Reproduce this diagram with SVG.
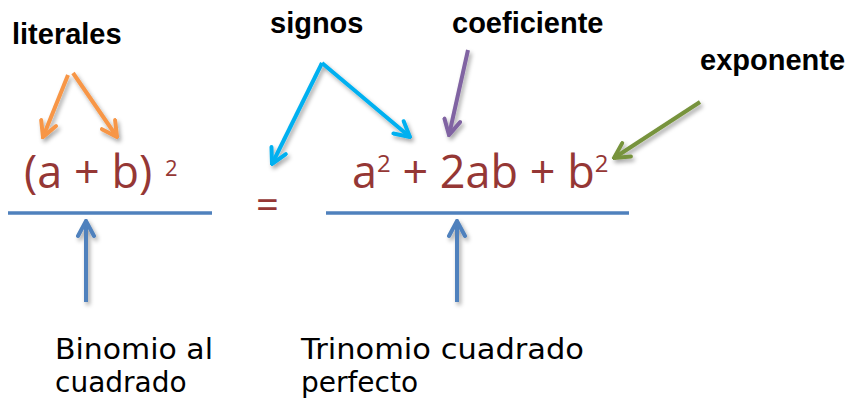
<svg xmlns="http://www.w3.org/2000/svg" width="848" height="401" viewBox="0 0 848 401">
<style>
.lbl{font-family:"Liberation Sans",Arial,sans-serif;font-weight:bold;font-size:29px;fill:#000}
.math{font-family:"Open Sans","Noto Sans",sans-serif;font-size:45px;fill:#953735}
.cap{font-family:"DejaVu Sans","Noto Sans",sans-serif;font-size:28px;fill:#000}
.arr{fill:none;stroke-width:4;filter:url(#sh)}
.bar{stroke:#4f81bd;stroke-width:3.5;fill:none}
</style>
<defs>
<filter id="sh" filterUnits="userSpaceOnUse" x="0" y="0" width="848" height="401">
<feDropShadow dx="2" dy="3" stdDeviation="2" flood-color="#000" flood-opacity="0.35"/>
</filter>
<marker id="mO" viewBox="0 0 20 20" refX="18" refY="10" markerWidth="20" markerHeight="20" markerUnits="userSpaceOnUse" orient="auto"><path d="M3,2 L18,10 L3,18" fill="none" stroke="#f79646" stroke-width="4" stroke-linecap="round"/></marker>
<marker id="mC" viewBox="0 0 20 20" refX="18" refY="10" markerWidth="20" markerHeight="20" markerUnits="userSpaceOnUse" orient="auto"><path d="M3,2 L18,10 L3,18" fill="none" stroke="#00b0f0" stroke-width="4" stroke-linecap="round"/></marker>
<marker id="mP" viewBox="0 0 20 20" refX="18" refY="10" markerWidth="20" markerHeight="20" markerUnits="userSpaceOnUse" orient="auto"><path d="M3,2 L18,10 L3,18" fill="none" stroke="#8064a2" stroke-width="4" stroke-linecap="round"/></marker>
<marker id="mG" viewBox="0 0 20 20" refX="18" refY="10" markerWidth="20" markerHeight="20" markerUnits="userSpaceOnUse" orient="auto"><path d="M3,2 L18,10 L3,18" fill="none" stroke="#77933c" stroke-width="4" stroke-linecap="round"/></marker>
<marker id="mB" viewBox="0 0 20 20" refX="18" refY="10" markerWidth="20" markerHeight="20" markerUnits="userSpaceOnUse" orient="auto"><path d="M3,2 L18,10 L3,18" fill="none" stroke="#4f81bd" stroke-width="4" stroke-linecap="round"/></marker>
</defs>
<rect width="848" height="401" fill="#fff"/>

<g id="label-literales"><text class="lbl" x="12" y="44">literales</text></g>
<g id="label-signos"><text class="lbl" x="270" y="33">signos</text></g>
<g id="label-coeficiente"><text class="lbl" x="452" y="33">coeficiente</text></g>
<g id="label-exponente"><text class="lbl" x="700" y="70">exponente</text></g>

<g id="binomio">
<text class="math" x="24" y="188">(a + b)</text>
<text class="math" x="165" y="176" style="font-size:22px">2</text>
<line class="bar" x1="8" y1="213" x2="212" y2="213"/>
</g>
<g id="igual"><text class="math" x="256" y="219" style="font-size:40px">=</text></g>
<g id="trinomio">
<text class="math" x="352" y="188">a<tspan dy="-16" style="font-size:24px">2</tspan><tspan dy="16"> + 2ab + b</tspan><tspan dy="-16" style="font-size:24px">2</tspan></text>
<line class="bar" x1="326" y1="213" x2="629" y2="213"/>
</g>

<g id="caption-binomio">
<text class="cap" x="55" y="359" textLength="158" lengthAdjust="spacingAndGlyphs">Binomio al</text>
<text class="cap" x="55" y="392">cuadrado</text>
</g>
<g id="caption-trinomio">
<text class="cap" x="301" y="359" textLength="283" lengthAdjust="spacingAndGlyphs">Trinomio cuadrado</text>
<text class="cap" x="301" y="392">perfecto</text>
</g>

<g id="connectors">
<line class="arr" stroke="#f79646" x1="68" y1="75" x2="43" y2="137" marker-end="url(#mO)"/>
<line class="arr" stroke="#f79646" x1="73" y1="73" x2="117" y2="137" marker-end="url(#mO)"/>
<line class="arr" stroke="#00b0f0" x1="322" y1="63" x2="272" y2="164" marker-end="url(#mC)"/>
<line class="arr" stroke="#00b0f0" x1="322" y1="63" x2="410" y2="137" marker-end="url(#mC)"/>
<line class="arr" stroke="#8064a2" x1="468" y1="50" x2="449" y2="135" marker-end="url(#mP)"/>
<line class="arr" stroke="#77933c" x1="700" y1="102" x2="614" y2="158" marker-end="url(#mG)"/>
<line class="arr" stroke="#4f81bd" x1="86" y1="302" x2="86" y2="221" marker-end="url(#mB)"/>
<line class="arr" stroke="#4f81bd" x1="457" y1="302" x2="457" y2="221" marker-end="url(#mB)"/>
</g>
</svg>
